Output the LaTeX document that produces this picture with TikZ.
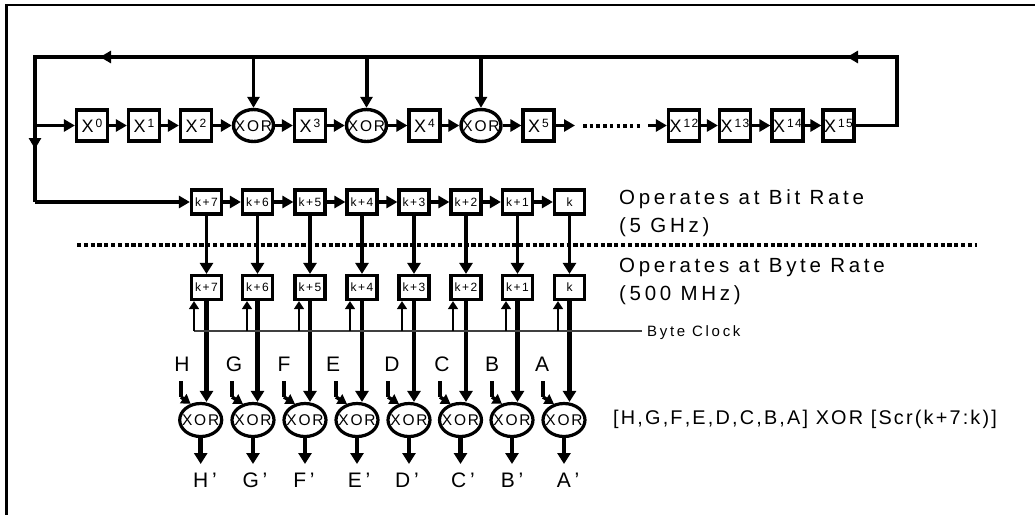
\documentclass[tikz,border=0pt]{standalone}
\usepackage{fontspec}
\setmainfont{Liberation Sans}
\newfontfamily\wide[LetterSpace=18,Kerning=Off]{Liberation Sans}
\newfontfamily\midl[LetterSpace=11,Kerning=Off]{Liberation Sans}
\newfontfamily\smsp[LetterSpace=12,Kerning=Off]{Liberation Sans}
\usetikzlibrary{arrows.meta,shapes.geometric}
\newcommand{\fs}[1]{\fontsize{#1}{#1}\selectfont}
\newcommand{\xsup}[1]{{\fs{18}X}{\fs{12}\raisebox{5pt}{\,\smsp #1}}}
\newcommand{\xortxt}{\smash{\raisebox{-0.36em}{\makebox[0pt]{XOR}}}}
\tikzset{
  x=1pt,y=-1pt,
  line join=round,
  boxa/.style={draw,line width=3.2pt,minimum width=31pt,minimum height=31pt,inner sep=0pt},
  boxb/.style={draw,line width=3.2pt,minimum width=30pt,minimum height=24pt,inner sep=0pt,font=\smsp\fs{12}},
  xortop/.style={draw,ellipse,line width=3.4pt,minimum width=40pt,minimum height=32pt,inner sep=0pt,font=\smsp\fs{15.5}},
  xorbot/.style={draw,ellipse,line width=3.2pt,minimum width=42pt,minimum height=33pt,inner sep=0pt,font=\smsp\fs{15.5}},
  conn/.style={line width=3.3pt},
  arr/.style={conn,-{Triangle[width=12pt,length=11pt]}},
  thick arr/.style={line width=4.5pt,-{Triangle[width=13pt,length=11pt]}},
  clk/.style={line width=1.6pt,-{Triangle[width=10pt,length=8pt]}},
  lab/.style={inner sep=0pt,anchor=base,font=\fs{21}},
  note/.style={inner sep=0pt,anchor=base west,font=\wide\fs{20.5}},
}
\begin{document}
\begin{tikzpicture}
\useasboundingbox (0,0) rectangle (1035,515);
\draw[line width=2.2pt] (1035,5) -- (6.5,5) -- (6.5,515);

% LFSR row
\foreach \n/\x/\s in {a0/92/0,a1/144/1,a2/196/2,a3/310/3,a4/424.5/4,a5/538.5/5,a12/684/12,a13/735/13,a14/787.5/14,a15/838.5/15}
  \node[boxa] (\n) at (\x,125.5) {\xsup{\s}};
\foreach \n/\x in {o1/253.5,o2/366.5,o3/481}
  \node[xortop] (\n) at (\x,125.5) {\xortxt};

\coordinate (tr) at (897,57);
\coordinate (br) at (897,125.5);
\coordinate (tl) at (35,57);
\coordinate (jn) at (35,125.5);
\coordinate (bl) at (35,202);
\coordinate (busr) at (847,57);
\coordinate (busl) at (100,57);
\coordinate (downtip) at (35,149);
\coordinate (t1) at (253.5,57);
\coordinate (t2) at (366.5,57);
\coordinate (t3) at (481,57);
\coordinate (gapa) at (575,125.5);
\coordinate (gapb) at (648,125.5);
\coordinate (dota) at (583,125.5);
\coordinate (dotb) at (642,125.5);

% k rows
\foreach \n/\x/\t in {7/206.5/k+7,6/257.5/k+6,5/310/k+5,4/362/k+4,3/414/k+3,2/466/k+2,1/517.5/k+1,0/569.5/k}{
  \node[boxb] (p\n) at (\x,202) {\t};
  \node[boxb] (q\n) at (\x,287.5) {\t};
}
\foreach \n/\x in {7/200.7,6/253,5/305,4/357,3/409,2/460.5,1/512,0/564}
  \node[xorbot] (r\n) at (\x,420) {\xortxt};

% feedback bus
\draw[conn] (a15.east) -- (br) -- (tr) -- (tl) -- (bl);
\draw[arr] (bl) -- (p7.west);
\draw[arr] (jn) -- (a0.west);
\draw[arr] (tr) -- (busr);
\draw[arr] (busr) -- (busl);
\draw[arr] (jn) -- (downtip);
\draw[arr] (t1) -- (o1.north);
\draw[arr,line width=4pt] (t2) -- (o2.north);
\draw[arr] (t3) -- (o3.north);

% LFSR connectors
\draw[arr] (a0) -- (a1);
\draw[arr] (a1) -- (a2);
\draw[arr] (a2) -- (o1);
\draw[arr] (o1) -- (a3);
\draw[arr] (a3) -- (o2);
\draw[arr] (o2) -- (a4);
\draw[arr] (a4) -- (o3);
\draw[arr] (o3) -- (a5);
\draw[arr] (a5) -- (gapa);
\draw[line width=4pt,dash pattern=on 3.5pt off 3.2pt] (dota) -- (dotb);
\draw[arr] (gapb) -- (a12);
\draw[arr] (a12) -- (a13);
\draw[arr] (a13) -- (a14);
\draw[arr] (a14) -- (a15);

% shift register
\foreach \a/\b in {7/6,6/5,5/4,4/3,3/2,2/1,1/0}
  \draw[arr] (p\a) -- (p\b);
\foreach \n in {7,6,5,4,3,2,1,0}{
  \draw[line width=3.6pt,-{Triangle[width=13pt,length=11pt]}] (p\n) -- (q\n);
  \draw[thick arr] (q\n) -- (q\n |- r\n.north);
}

% divider
\coordinate (da) at (77,245);
\coordinate (db) at (977,245);
\draw[line width=4pt,dash pattern=on 4.2pt off 2.6pt] (da) -- (db);

% clock
\coordinate (cka) at (194,331);
\coordinate (ckb) at (642,331);
\draw[line width=1.2pt,draw=black!75] (cka) -- (ckb);
\foreach \n/\x in {7/194,6/247,5/299,4/350,3/402,2/453,1/506,0/558}{
  \coordinate (c\n) at (\x,331);
  \draw[clk] (c\n) -- (c\n |- q\n.south);
}

% outputs and inputs
\foreach \n/\l/\x/\ix/\lx/\ox in {7/H/200.7/181/182/205,6/G/253/232/234/255,5/F/305/284/284/304,4/E/357/336/333/359,3/D/409/388/392/407,2/C/460.5/440/442/463,1/B/512/492/492/512,0/A/564/543/542/568}{
  \coordinate (s\n) at (\ix,381);
  \coordinate (k\n) at (\ix,397);
  \draw[line width=4pt] (s\n) -- (k\n);
  \draw[line width=3.5pt,-{Triangle[width=11pt,length=9pt]}] (k\n) -- (r\n.122);
  \coordinate (e\n) at (\x,464);
  \draw[thick arr] (r\n.south) -- (e\n);
  \node[lab] (in\n) at (\lx,371) {\l};
  \node[lab] (out\n) at (\ox,487) {\wide\l’};
}

% notes
\node[note] (n1) at (619,204) {Operates at Bit Rate};
\node[note] (n2) at (619,232) {(5 GHz)};
\node[note] (n3) at (619,272.7) {Operates at Byte Rate};
\node[note] (n4) at (619,300.7) {(500 MHz)};
\node[inner sep=0pt,anchor=base west,font=\wide\fs{15}] (n5) at (647,336) {Byte Clock};
\node[inner sep=0pt,anchor=base west,font=\midl\fs{19.85}] (n6) at (613,424) {[H,G,F,E,D,C,B,A] XOR [Scr(k+7:k)]};
\end{tikzpicture}
\end{document}
